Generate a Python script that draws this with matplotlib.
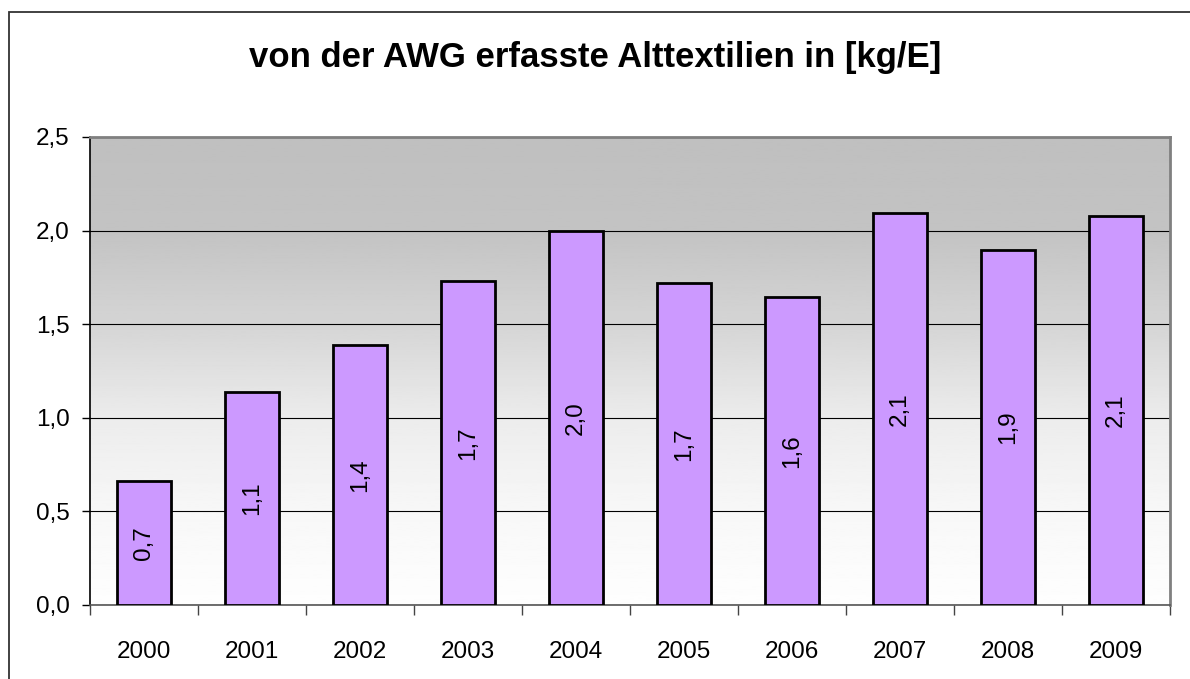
import matplotlib.pyplot as plt
import numpy as np
from matplotlib.patches import Rectangle

plt.rcParams['font.family'] = ['Liberation Sans', 'DejaVu Sans']

years = ["2000", "2001", "2002", "2003", "2004", "2005", "2006", "2007", "2008", "2009"]
kg_per_inhabitant = [0.66, 1.137, 1.391, 1.732, 1.998, 1.72, 1.645, 2.093, 1.899, 2.079]
labels = ["0,7", "1,1", "1,4", "1,7", "2,0", "1,7", "1,6", "2,1", "1,9", "2,1"]
y_ticks = [0.0, 0.5, 1.0, 1.5, 2.0, 2.5]
y_tick_labels = ["0,0", "0,5", "1,0", "1,5", "2,0", "2,5"]

W, H = 1190, 679
fig = plt.figure(figsize=(W / 100, H / 100), dpi=100)

# chart border (only left/top visible in the crop)
fig.patches.append(Rectangle((9 / W, -0.1), 1.2, (H - 12) / H + 0.1, transform=fig.transFigure,
                             fill=False, edgecolor="#333333", linewidth=1.3))

ax = fig.add_axes([90 / W, (H - 605) / H, (1170 - 90) / W, (605 - 137) / H])

# gray-to-white gradient background
grad_y = np.array([0.0, 0.5, 1.0, 1.5, 2.0, 2.5])
grad_v = np.array([0.995, 0.97, 0.925, 0.835, 0.765, 0.75])
yy = np.linspace(0, 2.5, 300)
img = np.interp(yy, grad_y, grad_v)[:, None]
ax.imshow(img, cmap="gray", vmin=0, vmax=1, aspect="auto", origin="lower",
          extent=[-0.5, len(years) - 0.5, 0, 2.5], zorder=0)

x = np.arange(len(years))
ax.bar(x, kg_per_inhabitant, width=0.5, color="#cc99ff", edgecolor="black", linewidth=2, zorder=3)

fs = 17.5
for xi, v, lab in zip(x, kg_per_inhabitant, labels):
    ax.text(xi, v / 2, lab, rotation=90, ha="center", va="center", fontsize=fs, zorder=4)

ax.set_xlim(-0.5, len(years) - 0.5)
ax.set_ylim(0, 2.5)
ax.set_yticks(y_ticks)
ax.set_yticklabels(y_tick_labels, fontsize=fs)
ax.yaxis.grid(True, color="black", linewidth=0.8, zorder=1)
ax.set_axisbelow(True)

ax.set_xticks(x)
ax.set_xticklabels(years, fontsize=fs)
ax.tick_params(axis="x", length=0, pad=26)
ax.set_xticks(np.arange(-0.5, len(years)), minor=True)
ax.tick_params(axis="x", which="minor", length=7, color="#444444", width=1)
ax.tick_params(axis="y", length=6, width=1, pad=8.5)

ax.spines["left"].set_color("black")
ax.spines["left"].set_linewidth(1.2)
for s in ("top", "right"):
    ax.spines[s].set_color("#808080")
    ax.spines[s].set_linewidth(2)
ax.spines["bottom"].set_color("#555555")
ax.spines["bottom"].set_linewidth(1.2)

fig.text(595 / W, 1 - 58 / H, "von der AWG erfasste Alttextilien in [kg/E]",
         ha="center", va="center", fontsize=25, fontweight="bold")

fig.savefig("out.png", dpi=100)
